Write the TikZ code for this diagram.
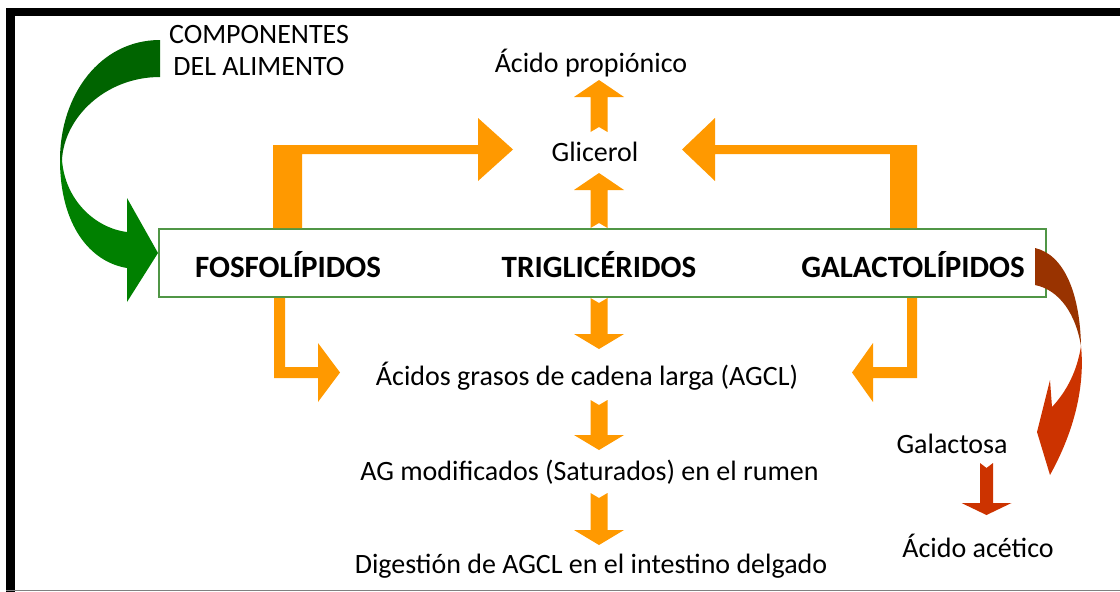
\documentclass[tikz,border=0pt]{standalone}
\usepackage{fontspec}
\setmainfont{Carlito}
\usetikzlibrary{calc}
\definecolor{orng}{RGB}{255,153,0}
\definecolor{lgreen}{RGB}{0,128,0}
\definecolor{dgreen}{RGB}{0,100,0}
\definecolor{dred}{RGB}{153,51,0}
\definecolor{lred}{RGB}{204,51,0}
\definecolor{boxgreen}{RGB}{80,150,70}
\tikzset{
txt/.style={anchor=base,inner sep=0pt,font=\fontsize{28}{32}\selectfont},
lip/.style={txt,font=\fontsize{31}{36}\selectfont\bfseries},
pics/notched/.style n args={3}{code={
\fill[pic actions] (-#2,0)--(0,5)--(#2,0)--(#2,#1-#3)--(25,#1-#3)--(0,#1)--(-25,#1-#3)--(-#2,#1-#3)--cycle;}},
}
\begin{document}
\begin{tikzpicture}[x=1pt,y=-1pt]
\useasboundingbox (0,0) rectangle (1120,592);
%\draw[help lines] (0,0) grid[step=50] (1120,592);
\fill (6,8) rectangle (1120,16);
\fill (6,8) rectangle (15,592);
\draw[gray,line width=1.5pt] (6,590.5)--(1120,590.5);
\node[draw=boxgreen,line width=2pt,minimum width=887pt,minimum height=68pt,inner sep=0pt] (lipbox) at (602.5,263) {};
\node[lip] (fos) at (288,277) {FOSFOLÍPIDOS};
\node[lip] (tri) at (599,277) {TRIGLICÉRIDOS};
\node[lip] (gal) at (913,277) {GALACTOLÍPIDOS};
\node[txt,align=center,anchor=north] (comp) at (259,25) {COMPONENTES\\DEL ALIMENTO};
\node[txt] (prop) at (591,72) {Ácido propiónico};
\node[txt] (glic) at (595,161) {Glicerol};
\node[txt] (agcl) at (587,385) {Ácidos grasos de cadena larga (AGCL)};
\node[txt] (agmod) at (589.5,480) {AG modificados (Saturados) en el rumen};
\node[txt] (dig) at (591,573) {Digestión de AGCL en el intestino delgado};
\node[txt] (galac) at (952,453) {Galactosa};
\node[txt] (acet) at (978,557) {Ácido acético};
% block arrows
\pic[fill=orng,rotate=180] at (tri |- lipbox.north) {notched={55}{8.5}{17}};
\pic[fill=orng,rotate=180] at (599,132) {notched={52}{8.5}{17}};
\pic[fill=orng] at (tri |- lipbox.south) {notched={51}{8.5}{15}};
\pic[fill=orng] at (599,400) {notched={50}{8.5}{15}};
\pic[fill=orng] at (599,493) {notched={52}{8.5}{15}};
\pic[fill=lred] at (986.5,463) {notched={52}{6.5}{12}};
% bent arrows
\fill[orng] (273,228)--(273,145)--(478,145)--(478,118)--(513,149.5)--(478,181)--(478,154)--(302,154)--(302,228)--cycle;
\fill[orng] (917,228)--(917,145)--(715,145)--(715,118)--(682,149.5)--(715,181)--(715,154)--(890,154)--(890,228)--cycle;
\fill[orng] (274,298)--(274,378)--(318,378)--(318,402)--(340,372.5)--(318,343)--(318,367)--(285,367)--(285,298)--cycle;
\fill[orng] (917,298)--(917,378)--(873,378)--(873,402)--(852,372.5)--(873,343)--(873,367)--(907,367)--(907,298)--cycle;
% curved arrows
\fill[dgreen] (160,40) .. controls (100,40) and (60,95) .. (60,160) -- (62,160) .. controls (64,118) and (105,77) .. (160,77) -- cycle;
\fill[lgreen] (60,160) .. controls (60,225) and (90,262) .. (127,268) -- (127,302) -- (158,253) -- (127,198) -- (127,232) .. controls (95,228) and (65,200) .. (62,160) -- cycle;
\fill[dred] (1035,248) .. controls (1065,255) and (1080,295) .. (1081,346) .. controls (1076,315) and (1060,290) .. (1035,285) -- cycle;
\fill[lred] (1081,346) .. controls (1085,385) and (1075,430) .. (1050,475) -- (1037,432) -- (1050,380) -- (1052,407) .. controls (1066,392) and (1077,372) .. (1081,346) -- cycle;
\end{tikzpicture}
\end{document}
